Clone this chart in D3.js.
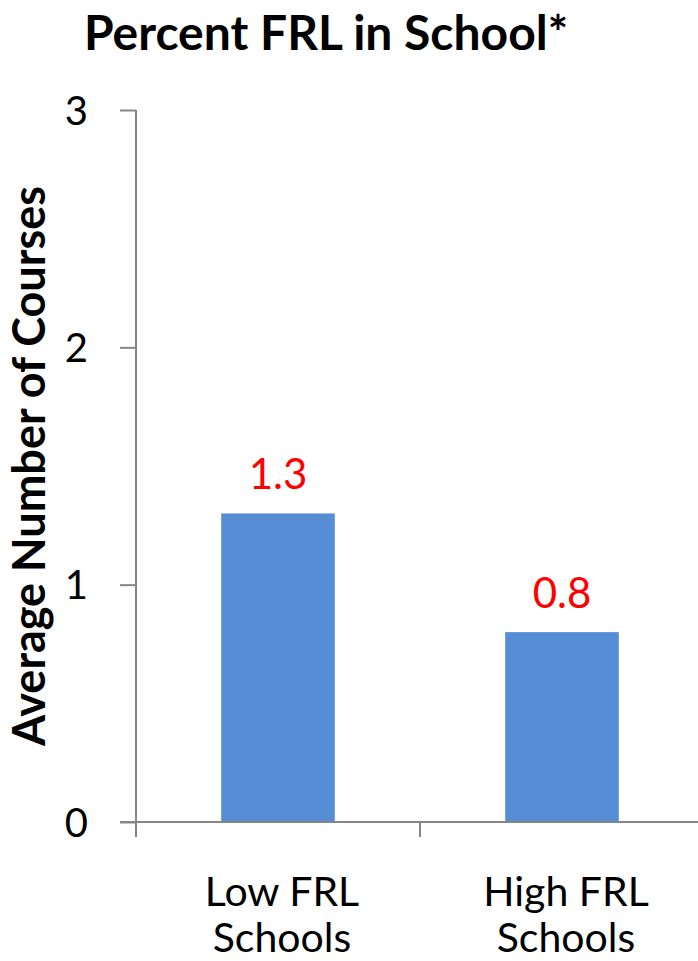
<!DOCTYPE html>
<html><head><meta charset="utf-8">
<script src="https://cdn.jsdelivr.net/npm/d3@7"></script>
<style>
html,body{margin:0;padding:0;background:#fff;}
svg{display:block;font-family:Lato,"Open Sans",sans-serif;}
</style></head>
<body>
<svg id="c" width="698" height="961"></svg>
<script>
const categories = ["Low FRL|Schools", "High FRL|Schools"];
const values = [1.3, 0.8];
const valueLabels = ["1.3", "0.8"];
const yTicks = [0, 1, 2, 3];
const titleText = "Percent FRL in School*";
const yTitle = "Average Number of Courses";

const svg = d3.select("#c");
const axisColor = "#868686";
const y = d3.scaleLinear().domain([0, 3]).range([822, 110]);
const xOuter = d3.scaleBand().domain(categories).range([136, 704]).padding(0);
const x = d3.scaleBand().domain(categories).range([136, 704]).paddingInner(0.6).paddingOuter(0.3);

// title
svg.append("text").attr("x", 326).attr("y", 50).attr("text-anchor", "middle")
  .attr("font-weight", "bold").attr("font-size", 48).attr("fill", "#000").text(titleText);

// y axis title
svg.append("text").attr("transform", "translate(45,466) rotate(-90)").attr("text-anchor", "middle")
  .attr("font-weight", "bold").attr("font-size", 45).attr("fill", "#000").text(yTitle);

// bars
svg.selectAll("rect.bar").data(values).join("rect").attr("class", "bar")
  .attr("x", (d, i) => x(categories[i])).attr("width", x.bandwidth())
  .attr("y", d => y(d)).attr("height", d => y(0) - y(d)).attr("fill", "#558ED5");

// value labels
svg.selectAll("text.val").data(values).join("text").attr("class", "val")
  .attr("x", (d, i) => x(categories[i]) + x.bandwidth() / 2).attr("y", d => y(d) - 24)
  .attr("text-anchor", "middle").attr("font-size", 42).attr("fill", "#FF0000")
  .text((d, i) => valueLabels[i]);

// y axis
const yAxis = d3.axisLeft(y).tickValues(yTicks).tickSize(16).tickPadding(32).tickFormat(d3.format("d"));
const gy = svg.append("g").attr("transform", "translate(136,0)").call(yAxis);
gy.select(".domain").attr("stroke", axisColor).attr("stroke-width", 2).attr("d", `M0,${y(3)}V${y(0)}`);
gy.selectAll(".tick line").attr("stroke", axisColor).attr("stroke-width", 2);
gy.selectAll(".tick text").attr("font-size", 40).attr("fill", "#000").attr("font-family", "Lato,sans-serif").attr("dy", "0.35em");

// x axis
const gx = svg.append("g").attr("transform", `translate(0,${y(0)})`);
gx.append("line").attr("x1", 120).attr("x2", 704).attr("y1", 0).attr("y2", 0)
  .attr("stroke", axisColor).attr("stroke-width", 2);
const bounds = categories.map(c => xOuter(c)).concat([xOuter(categories[categories.length - 1]) + xOuter.bandwidth()]);
gx.selectAll("line.tk").data(bounds).join("line").attr("class", "tk")
  .attr("x1", d => d).attr("x2", d => d).attr("y1", 0).attr("y2", 15)
  .attr("stroke", axisColor).attr("stroke-width", 2);

// category labels
categories.forEach(c => {
  const lines = c.split("|");
  const t = svg.append("text").attr("text-anchor", "middle").attr("font-size", 41).attr("fill", "#000");
  lines.forEach((l, j) => {
    t.append("tspan").attr("x", xOuter(c) + xOuter.bandwidth() / 2 + 4).attr("y", 906 + j * 46).text(l);
  });
});
</script>
</body></html>
